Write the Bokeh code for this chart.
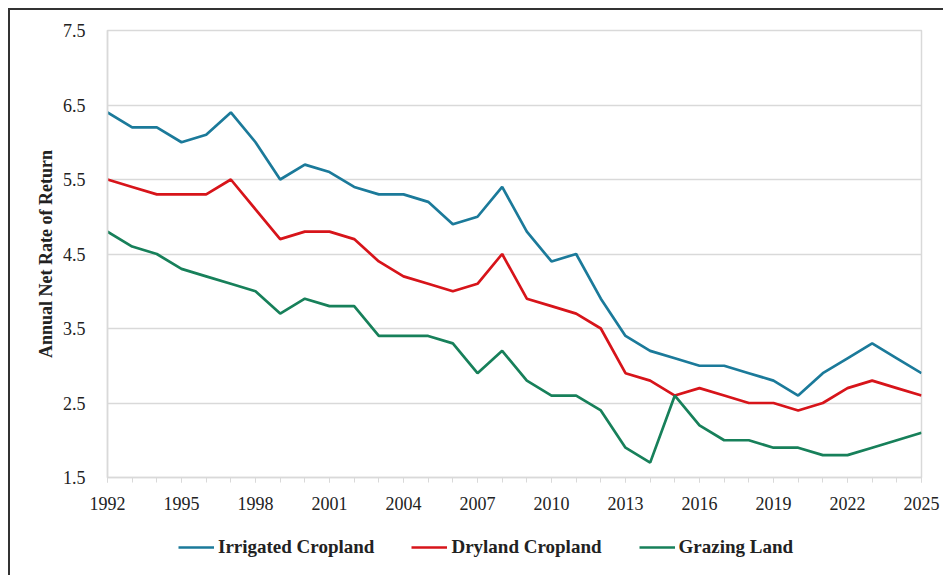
from bokeh.plotting import figure
from bokeh.layouts import column
from bokeh.models import Range1d, FixedTicker, Legend, LegendItem
from bokeh.embed import file_html
from bokeh.resources import INLINE

years = list(range(1992, 2026))
irrigated = [6.4, 6.2, 6.2, 6.0, 6.1, 6.4, 6.0, 5.5, 5.7, 5.6, 5.4, 5.3, 5.3, 5.2, 4.9, 5.0, 5.4,
             4.8, 4.4, 4.5, 3.9, 3.4, 3.2, 3.1, 3.0, 3.0, 2.9, 2.8, 2.6, 2.9, 3.1, 3.3, 3.1, 2.9]
dryland = [5.5, 5.4, 5.3, 5.3, 5.3, 5.5, 5.1, 4.7, 4.8, 4.8, 4.7, 4.4, 4.2, 4.1, 4.0, 4.1, 4.5,
           3.9, 3.8, 3.7, 3.5, 2.9, 2.8, 2.6, 2.7, 2.6, 2.5, 2.5, 2.4, 2.5, 2.7, 2.8, 2.7, 2.6]
grazing = [4.8, 4.6, 4.5, 4.3, 4.2, 4.1, 4.0, 3.7, 3.9, 3.8, 3.8, 3.4, 3.4, 3.4, 3.3, 2.9, 3.2,
           2.8, 2.6, 2.6, 2.4, 1.9, 1.7, 2.6, 2.2, 2.0, 2.0, 1.9, 1.9, 1.8, 1.8, 1.9, 2.0, 2.1]
series_names = ["Irrigated Cropland", "Dryland Cropland", "Grazing Land"]
colors = ["#1b7a9a", "#d7141a", "#17805a"]
x_ticks = list(range(1992, 2026, 3))
y_ticks = [1.5, 2.5, 3.5, 4.5, 5.5, 6.5, 7.5]

FONT = "Liberation Serif"
GRID = "#d9d9d9"

p = figure(width=933, height=515,
           output_backend="svg", toolbar_location=None,
           x_range=Range1d(1992, 2025), y_range=Range1d(1.5, 7.5),
           min_border_left=97, min_border_right=22, min_border_top=20, min_border_bottom=48)

for vals, c in zip([irrigated, dryland, grazing], colors):
    p.line(years, vals, line_color=c, line_width=2.7)

p.xgrid.grid_line_color = None
p.ygrid.grid_line_color = GRID
p.ygrid.grid_line_width = 1.5
p.ygrid.ticker = FixedTicker(ticks=y_ticks)
p.outline_line_color = GRID
p.outline_line_width = 1.5

p.xaxis.ticker = FixedTicker(ticks=x_ticks, minor_ticks=years)
p.yaxis.ticker = FixedTicker(ticks=y_ticks)
p.yaxis.formatter.use_scientific = False

for ax in [p.xaxis[0], p.yaxis[0]]:
    ax.axis_line_color = GRID
    ax.axis_line_width = 1.5
    ax.major_label_text_font = FONT
    ax.major_label_text_font_size = "18px"
    ax.major_label_text_color = "#222222"

p.xaxis.major_tick_line_color = GRID
p.xaxis.minor_tick_line_color = GRID
p.xaxis.major_tick_in = 0
p.xaxis.major_tick_out = 5
p.xaxis.minor_tick_in = 0
p.xaxis.minor_tick_out = 5
p.xaxis.major_label_standoff = 14

p.yaxis.major_tick_line_color = None
p.yaxis.minor_tick_line_color = None
p.yaxis.major_label_standoff = 16
p.yaxis.axis_label = "Annual Net Rate of Return"
p.yaxis.axis_label_text_font = FONT
p.yaxis.axis_label_text_font_style = "bold"
p.yaxis.axis_label_text_font_size = "18px"
p.yaxis.axis_label_text_color = "#222222"
p.yaxis.axis_label_standoff = 4

# legend strip (separate small figure so the legend is not clipped);
# its series lie outside this strip's ranges, so only the legend shows
p2 = figure(width=933, height=50, output_backend="svg", toolbar_location=None,
            x_range=Range1d(0, 1), y_range=Range1d(0, 1),
            x_axis_type=None, y_axis_type=None,
            min_border_left=0, min_border_right=0, min_border_top=0, min_border_bottom=0)
p2.outline_line_color = None
items = []
for name, vals, c in zip(series_names, [irrigated, dryland, grazing], colors):
    r = p2.line(years, vals, line_color=c, line_width=2.7)
    items.append(LegendItem(label=name, renderers=[r]))

legend = Legend(items=items, orientation="horizontal", location=(71, 17))
legend.label_text_font = FONT
legend.label_text_font_style = "bold"
legend.label_text_font_size = "19px"
legend.label_text_color = "#222222"
legend.glyph_width = 36
legend.glyph_height = 20
legend.label_standoff = 4
legend.spacing = 37
legend.border_line_color = None
legend.background_fill_alpha = 0
legend.margin = 0
legend.padding = 0
p2.add_layout(legend, "center")

layout = column(p, p2, spacing=0)
layout.margin = (8, 0, 0, 8)
layout.styles = {"border-top": "2px solid #333", "border-left": "2px solid #333"}

open("out.html", "w").write(file_html(layout, INLINE))
